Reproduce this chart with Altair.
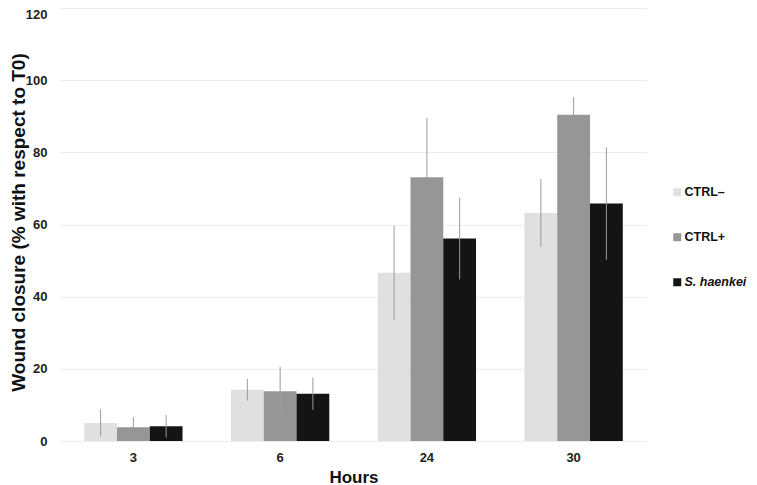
import altair as alt
import pandas as pd

hours = ["3", "6", "24", "30"]
groups = ["CTRL\u2013", "CTRL+", "S. haenkei"]
ctrl_minus = [5.0, 14.2, 46.6, 63.2]
ctrl_minus_err = [3.8, 3.0, 13.0, 9.4]
ctrl_plus = [3.8, 13.8, 73.1, 90.4]
ctrl_plus_err = [2.8, 6.8, 16.4, 4.9]
haenkei = [4.1, 13.1, 56.1, 65.8]
haenkei_err = [3.1, 4.5, 11.3, 15.6]
colors = ["#e0e0e0", "#969696", "#141414"]

rows = []
for g, vals, errs in zip(groups, [ctrl_minus, ctrl_plus, haenkei],
                         [ctrl_minus_err, ctrl_plus_err, haenkei_err]):
    for h, v, e in zip(hours, vals, errs):
        rows.append({"Hours": h, "Group": g, "value": v, "lo": v - e, "hi": v + e})
df = pd.DataFrame(rows)

font = "Liberation Sans"

x_enc = alt.X("Hours:N", sort=hours, title="Hours",
              scale=alt.Scale(paddingInner=0.33, paddingOuter=0.165),
              axis=alt.Axis(labelAngle=0, domain=False, ticks=False,
                            labelFont=font, labelFontSize=13, labelFontWeight="bold",
                            labelColor="#222", labelPadding=10,
                            titleFont=font, titleFontSize=17, titleFontWeight="bold",
                            titleColor="#111", titlePadding=5))
xo = alt.XOffset("Group:N", sort=groups)

bars = alt.Chart(df).mark_bar().encode(
    x=x_enc,
    xOffset=xo,
    y=alt.Y("value:Q", scale=alt.Scale(domain=[0, 120]),
            title="Wound closure (% with respect to T0)",
            axis=alt.Axis(values=[0, 20, 40, 60, 80, 100, 120], domain=False, ticks=False,
                          grid=True, gridColor="#ececec", gridWidth=1,
                          labelFont=font, labelFontSize=13, labelFontWeight="bold",
                          labelColor="#222", labelPadding=13,
                          labelOffset={"condition": {"test": "datum.value == 120", "value": 6}, "value": 0},
                          titleFont=font, titleFontSize=19, titleFontWeight="bold",
                          titleColor="#111", titleX=-36, titleY=214, titleAngle=270,
                          titleBaseline="alphabetic")),
    color=alt.Color("Group:N", sort=groups,
                    scale=alt.Scale(domain=groups, range=colors),
                    legend=alt.Legend(title=None, orient="none", legendX=611, legendY=178,
                                      symbolType="square", symbolSize=64, symbolStrokeWidth=0,
                                      labelFont=font, labelFontSize=12.5, labelFontWeight="bold",
                                      labelColor="#111", labelOffset=1, rowPadding=32,
                                      labelFontStyle={"expr": "datum.label == 'S. haenkei' ? 'italic' : 'normal'"})),
)

errs = alt.Chart(df).mark_rule(color="#9a9a9a", strokeWidth=1).encode(
    x=alt.X("Hours:N", sort=hours),
    xOffset=xo,
    y="lo:Q",
    y2="hi:Q",
)

chart = alt.layer(bars, errs).properties(
    width=587, height=433,
    autosize=alt.AutoSizeParams(type="none"),
    padding={"left": 52, "top": 0, "right": 102, "bottom": 45},
).configure_view(stroke=None)

chart.save("out.html", embed_options={"renderer": "svg", "actions": False})
